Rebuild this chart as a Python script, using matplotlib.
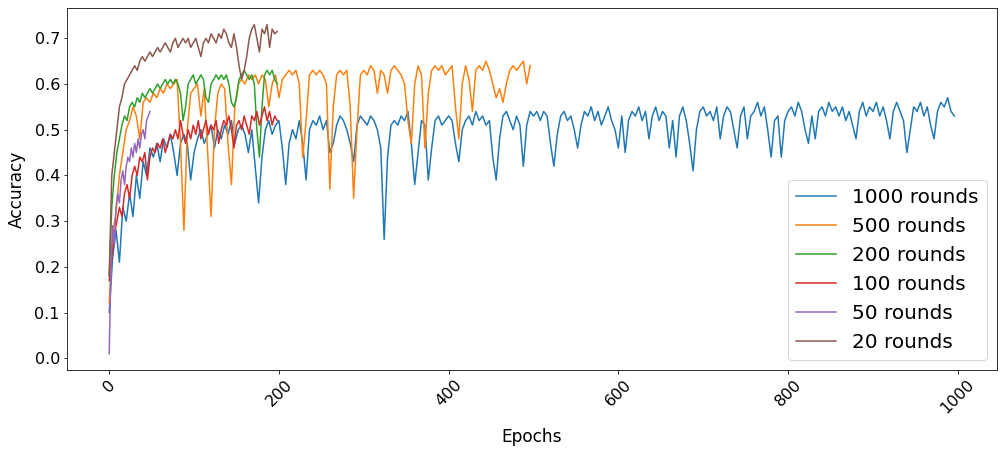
import numpy as np
import matplotlib
matplotlib.use("Agg")
import matplotlib.pyplot as plt

acc_1000 = [
    0.10, 0.22, 0.28, 0.21, 0.33, 0.30, 0.36, 0.31, 0.40, 0.35, 0.43, 0.40, 0.46, 0.44, 0.47, 0.43, 0.48, 0.46, 0.49, 0.45, 0.40, 0.47, 0.49, 0.47, 0.39,
    0.45, 0.48, 0.50, 0.47, 0.49, 0.51, 0.46, 0.50, 0.48, 0.51, 0.49, 0.52, 0.47, 0.50, 0.51, 0.49, 0.45, 0.50, 0.42, 0.34, 0.44, 0.50, 0.52, 0.49, 0.51,
    0.52, 0.46, 0.38, 0.47, 0.50, 0.48, 0.52, 0.47, 0.39, 0.50, 0.52, 0.51, 0.53, 0.50, 0.52, 0.45, 0.47, 0.51, 0.53, 0.52, 0.50, 0.47, 0.43, 0.51, 0.53,
    0.52, 0.51, 0.53, 0.52, 0.50, 0.46, 0.26, 0.44, 0.51, 0.52, 0.51, 0.53, 0.52, 0.54, 0.47, 0.38, 0.45, 0.52, 0.51, 0.39, 0.46, 0.52, 0.53, 0.51, 0.52,
    0.53, 0.52, 0.47, 0.43, 0.50, 0.52, 0.53, 0.51, 0.54, 0.52, 0.53, 0.51, 0.52, 0.44, 0.39, 0.48, 0.53, 0.54, 0.52, 0.50, 0.53, 0.51, 0.42, 0.51, 0.54,
    0.53, 0.54, 0.52, 0.54, 0.53, 0.47, 0.42, 0.49, 0.53, 0.54, 0.52, 0.53, 0.50, 0.46, 0.51, 0.54, 0.53, 0.55, 0.52, 0.54, 0.51, 0.53, 0.55, 0.52, 0.50,
    0.46, 0.53, 0.45, 0.52, 0.54, 0.53, 0.55, 0.52, 0.54, 0.48, 0.53, 0.55, 0.52, 0.54, 0.53, 0.46, 0.52, 0.44, 0.53, 0.55, 0.52, 0.47, 0.41, 0.50, 0.54,
    0.55, 0.53, 0.54, 0.52, 0.55, 0.48, 0.53, 0.55, 0.54, 0.50, 0.46, 0.53, 0.55, 0.48, 0.53, 0.54, 0.56, 0.53, 0.55, 0.50, 0.44, 0.52, 0.53, 0.44, 0.52,
    0.54, 0.55, 0.53, 0.56, 0.54, 0.50, 0.47, 0.53, 0.48, 0.54, 0.55, 0.53, 0.56, 0.54, 0.55, 0.53, 0.55, 0.52, 0.54, 0.51, 0.48, 0.54, 0.56, 0.53, 0.55,
    0.54, 0.56, 0.53, 0.55, 0.52, 0.48, 0.54, 0.56, 0.54, 0.52, 0.45, 0.50, 0.55, 0.54, 0.56, 0.53, 0.55, 0.51, 0.48, 0.54, 0.56, 0.55, 0.57, 0.54, 0.53,
]
acc_500 = [
    0.12, 0.27, 0.32, 0.40, 0.45, 0.50, 0.52, 0.55, 0.53, 0.48, 0.56, 0.57, 0.56, 0.58, 0.57, 0.59, 0.58, 0.60, 0.59, 0.60, 0.61, 0.47, 0.28, 0.50, 0.58,
    0.59, 0.60, 0.53, 0.59, 0.45, 0.31, 0.50, 0.58, 0.60, 0.59, 0.47, 0.38, 0.55, 0.60, 0.61, 0.60, 0.62, 0.61, 0.62, 0.60, 0.62, 0.61, 0.55, 0.60, 0.62,
    0.57, 0.61, 0.62, 0.63, 0.62, 0.63, 0.60, 0.44, 0.52, 0.62, 0.63, 0.62, 0.63, 0.62, 0.60, 0.37, 0.55, 0.62, 0.63, 0.62, 0.63, 0.55, 0.35, 0.50, 0.62,
    0.63, 0.62, 0.64, 0.63, 0.58, 0.63, 0.62, 0.58, 0.63, 0.64, 0.63, 0.62, 0.60, 0.52, 0.47, 0.60, 0.64, 0.62, 0.46, 0.58, 0.63, 0.64, 0.63, 0.64, 0.62,
    0.63, 0.64, 0.55, 0.48, 0.60, 0.64, 0.61, 0.54, 0.63, 0.64, 0.63, 0.65, 0.63, 0.60, 0.57, 0.59, 0.56, 0.60, 0.63, 0.64, 0.63, 0.64, 0.65, 0.60, 0.64,
]
acc_200 = [
    0.18, 0.33, 0.40, 0.45, 0.48, 0.51, 0.53, 0.52, 0.55, 0.56, 0.55, 0.57, 0.56, 0.58, 0.57, 0.58, 0.59, 0.58, 0.59, 0.60,
    0.59, 0.60, 0.61, 0.60, 0.61, 0.60, 0.61, 0.60, 0.58, 0.52, 0.55, 0.60, 0.61, 0.62, 0.60, 0.61, 0.62, 0.61, 0.57, 0.56,
    0.60, 0.61, 0.62, 0.61, 0.62, 0.61, 0.62, 0.60, 0.56, 0.55, 0.57, 0.61, 0.62, 0.63, 0.62, 0.61, 0.62, 0.60, 0.50, 0.44,
    0.55, 0.62, 0.63, 0.62, 0.63, 0.61, 0.60,
]
acc_100 = [
    0.17, 0.22, 0.27, 0.30, 0.33, 0.31, 0.36, 0.38, 0.35, 0.40, 0.42, 0.40, 0.44, 0.43, 0.45, 0.39, 0.44, 0.46, 0.45, 0.47,
    0.46, 0.48, 0.45, 0.47, 0.49, 0.48, 0.50, 0.48, 0.52, 0.49, 0.47, 0.50, 0.48, 0.51, 0.49, 0.52, 0.48, 0.50, 0.52, 0.49,
    0.51, 0.50, 0.52, 0.47, 0.50, 0.52, 0.51, 0.53, 0.50, 0.46, 0.51, 0.52, 0.50, 0.53, 0.51, 0.49, 0.53, 0.52, 0.54, 0.51,
    0.53, 0.55, 0.52, 0.54, 0.51, 0.53, 0.52,
]
acc_50 = [
    0.01, 0.20, 0.29, 0.25, 0.33, 0.36, 0.34, 0.39, 0.41, 0.38, 0.42, 0.44, 0.43, 0.46, 0.44, 0.47, 0.45, 0.48, 0.46, 0.49,
    0.50, 0.48, 0.52, 0.53, 0.54,
]
acc_20 = [
    0.18, 0.40, 0.45, 0.50, 0.55, 0.57, 0.60, 0.61, 0.62, 0.63, 0.64, 0.63, 0.65, 0.66, 0.65, 0.66, 0.67, 0.66, 0.67, 0.68,
    0.67, 0.68, 0.69, 0.68, 0.67, 0.69, 0.70, 0.68, 0.69, 0.70, 0.69, 0.70, 0.68, 0.69, 0.70, 0.68, 0.66, 0.69, 0.70, 0.69,
    0.71, 0.70, 0.69, 0.71, 0.70, 0.72, 0.71, 0.69, 0.68, 0.71, 0.68, 0.64, 0.61, 0.63, 0.66, 0.70, 0.72, 0.73, 0.70, 0.67,
    0.72, 0.71, 0.73, 0.68, 0.72, 0.71, 0.715,
]

series = [
    ("1000 rounds", acc_1000, 4),
    ("500 rounds", acc_500, 4),
    ("200 rounds", acc_200, 3),
    ("100 rounds", acc_100, 3),
    ("50 rounds", acc_50, 2),
    ("20 rounds", acc_20, 3),
]

fig = plt.figure(figsize=(1004 / 72, 453 / 72), dpi=72)
ax = fig.add_axes([0.0667, 0.183, 0.926, 0.799])

for label, acc, step in series:
    epochs = np.arange(len(acc)) * step
    ax.plot(epochs, acc, label=label, linewidth=1.5)

ax.set_xlabel("Epochs", fontsize=17, labelpad=12)
ax.set_ylabel("Accuracy", fontsize=17, labelpad=9)
ax.set_xticks([0, 200, 400, 600, 800, 1000])
ax.tick_params(axis="both", labelsize=16)
plt.setp(ax.get_xticklabels(), rotation=45)
ax.legend(fontsize=20, loc="lower right")

fig.savefig("out.png", dpi=72)
